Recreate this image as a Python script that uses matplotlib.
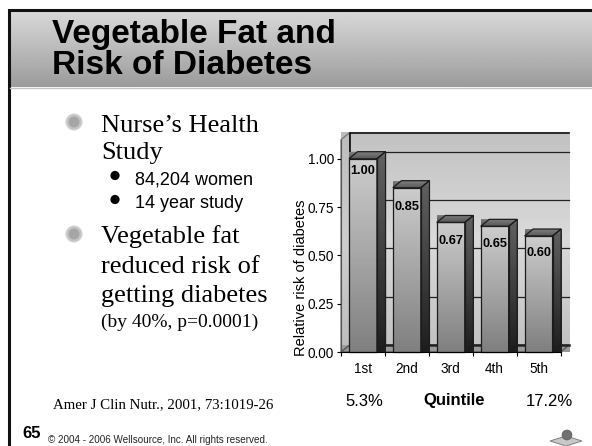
import matplotlib
matplotlib.use('Agg')
import matplotlib.pyplot as plt
import numpy as np
from matplotlib.patches import Polygon, Circle

# chart values
quintiles = ['1st', '2nd', '3rd', '4th', '5th']
risk = [1.00, 0.85, 0.67, 0.65, 0.60]
risk_labels = ['1.00', '0.85', '0.67', '0.65', '0.60']
label_drop = [12, 19, 19, 18, 17]  # px below bar top
y_ticks = [0.00, 0.25, 0.50, 0.75, 1.00]

W, H = 592, 446
SANS = 'Liberation Sans'
SERIF = 'Liberation Serif'

fig = plt.figure(figsize=(W / 100, H / 100), dpi=100)

# slide layer in pixel coords
bg = fig.add_axes([0, 0, 1, 1])
bg.imshow(np.linspace(0.85, 0.61, 80)[:, None], cmap='gray', vmin=0, vmax=1,
          extent=[10, W, 87, 11], aspect='auto')
bg.set_xlim(0, W)
bg.set_ylim(H, 0)
bg.axis('off')
bg.plot([9, 9, W], [H, 10, 10], color='#111111', lw=2.2, solid_joinstyle='miter')
bg.plot([10, W], [87.5, 87.5], color='#c4c4c4', lw=1)

bg.text(52, 43, 'Vegetable Fat and', family=SANS, weight='bold', fontsize=24, va='baseline')
bg.text(52, 74, 'Risk of Diabetes', family=SANS, weight='bold', fontsize=24, va='baseline')


def ball(x, y):
    bg.add_patch(Circle((x, y), 8, fc='#c4c4c4', ec='#d4d4d4', lw=0.8))
    bg.add_patch(Circle((x, y), 5.5, fc='#a6a6a6', ec='none'))


ball(74, 122)
ball(74, 234)
for s, y in [('Nurse\u2019s Health', 132), ('Study', 159), ('Vegetable fat', 243),
             ('reduced risk of', 273), ('getting diabetes', 302)]:
    bg.text(101, y, s, family=SERIF, fontsize=19, va='baseline')
bg.text(101, 327, '(by 40%, p=0.0001)', family=SERIF, fontsize=14, va='baseline')

for s, y in [('84,204 women', 180), ('14 year study', 204)]:
    bg.text(135, y, s, family=SANS, fontsize=13, va='center')
    bg.add_patch(Circle((115, y - 4.5), 4.6, fc='black', ec='none'))

bg.text(53, 405, 'Amer J Clin Nutr., 2001, 73:1019-26', family=SERIF, fontsize=10.7, va='center')
bg.text(22, 434, '65', family=SANS, weight='bold', fontsize=12, va='center')
bg.text(48, 440, '\u00a9 2004 - 2006 Wellsource, Inc. All rights reserved.', family=SANS,
        fontsize=7.1, va='center', color='#222222')
bg.text(364, 401, '5.3%', family=SANS, fontsize=12, ha='center', va='center')
bg.text(454, 401, 'Quintile', family=SANS, weight='bold', fontsize=12, ha='center', va='center')
bg.text(549, 401, '17.2%', family=SANS, fontsize=12, ha='center', va='center')

# small logo bottom right
bg.add_patch(Polygon([[550, 441], [566, 436], [582, 441], [566, 446]], closed=True,
                     fc='#c8c8c8', ec='#808080', lw=0.7))
bg.add_patch(Circle((567, 435), 5, fc='#707070', ec='#555555', lw=0.4))

# chart layer, one category = 43.9 px, one unit of y = 193.3 px
CAT_PX, UNIT_PX = 43.9, 193.3
LEFT, BOTTOM, RIGHT, TOP = 341.0, 352.0, 569.0, 132.7
ax = fig.add_axes([LEFT / W, 1 - BOTTOM / H, (RIGHT - LEFT) / W, (BOTTOM - TOP) / H])
ax.set_xlim(-0.5, -0.5 + (RIGHT - LEFT) / CAT_PX)
ax.set_ylim(0, (BOTTOM - TOP) / UNIT_PX)
ax.patch.set_alpha(0)
for sp in ax.spines.values():
    sp.set_visible(False)

dx = 8.6 / CAT_PX
dy = 7 / UNIT_PX
x_end = len(quintiles) - 0.5
wall_top = ax.get_ylim()[1]


def shaded(points, stops, z=1, edge='#1c1c1c', lw=0.9):
    # vertical gradient clipped to a polygon
    pts = np.array(points)
    col = np.interp(np.linspace(0, 1, 64), np.linspace(0, 1, len(stops)), stops)[:, None]
    im = ax.imshow(col, cmap='gray', vmin=0, vmax=1,
                   extent=[pts[:, 0].min(), pts[:, 0].max(), pts[:, 1].min(), pts[:, 1].max()],
                   aspect='auto', zorder=z, clip_on=False)
    poly = Polygon(points, closed=True, fc='none', ec=edge, lw=lw, zorder=z + 0.1, clip_on=False)
    ax.add_patch(poly)
    im.set_clip_path(poly)


# walls and floor
shaded([(-0.5 + dx, dy), (x_end + dx, dy), (x_end + dx, wall_top), (-0.5 + dx, wall_top)],
       [0.76, 0.85, 0.76], 1, edge='none')
shaded([(-0.5, 0), (-0.5 + dx, dy), (-0.5 + dx, wall_top), (-0.5, wall_top - dy)],
       [0.74, 0.80, 0.74], 1, edge='#777777')
shaded([(-0.5, 0), (x_end, 0), (x_end + dx, dy), (-0.5 + dx, dy)], [0.62, 0.58], 1, edge='#555555')

# back edges and gridlines
ax.plot([-0.5 + dx, -0.5 + dx, x_end + dx], [dy, wall_top, wall_top], color='black', lw=1.1,
        zorder=2, clip_on=False, solid_joinstyle='miter')
for t in y_ticks:
    ax.plot([-0.5 + dx, x_end + dx], [t + dy, t + dy], color='#222222',
            lw=1.8 if t == 0 else 0.9, zorder=2, clip_on=False)

half = 14 / CAT_PX
for i, v in enumerate(risk):
    x0, x1 = i - half, i + half
    shaded([(x1, 0), (x1 + dx, dy), (x1 + dx, v + dy), (x1, v)], [0.38, 0.12], 3)
    shaded([(x0, v), (x1, v), (x1 + dx, v + dy), (x0 + dx, v + dy)], [0.50, 0.34], 3)
    shaded([(x0, 0), (x1, 0), (x1, v), (x0, v)], [0.80, 0.50], 3)
    ax.annotate(risk_labels[i], (i, v), xytext=(0, -label_drop[i] * 0.72), textcoords='offset points',
                family=SANS, weight='bold', fontsize=9.2, ha='center', va='center', zorder=5,
                annotation_clip=False)

ax.set_xticks([i - 0.5 for i in range(len(quintiles) + 1)], [''] * (len(quintiles) + 1))
ax.set_yticks(y_ticks, ['%.2f' % t for t in y_ticks], family=SANS, fontsize=9.8)
ax.tick_params(axis='y', length=3, width=0.8, pad=2)
ax.tick_params(axis='x', length=3, width=0.8)
for i, q in enumerate(quintiles):
    ax.annotate(q, (i, 0), xytext=(0, -12), textcoords='offset points', family=SANS, fontsize=9.8,
                ha='center', va='center', annotation_clip=False)
ax.spines['left'].set_visible(True)
ax.spines['left'].set_bounds(0, wall_top - dy)
ax.spines['left'].set_color('#555555')
ax.spines['bottom'].set_visible(True)
ax.spines['bottom'].set_bounds(-0.5, x_end)
ax.spines['left'].set_zorder(6)
ax.spines['bottom'].set_zorder(6)
ax.set_ylabel('Relative risk of diabetes', family=SANS, fontsize=10.5, labelpad=0, y=0.34)

fig.savefig('out.png', dpi=100)
